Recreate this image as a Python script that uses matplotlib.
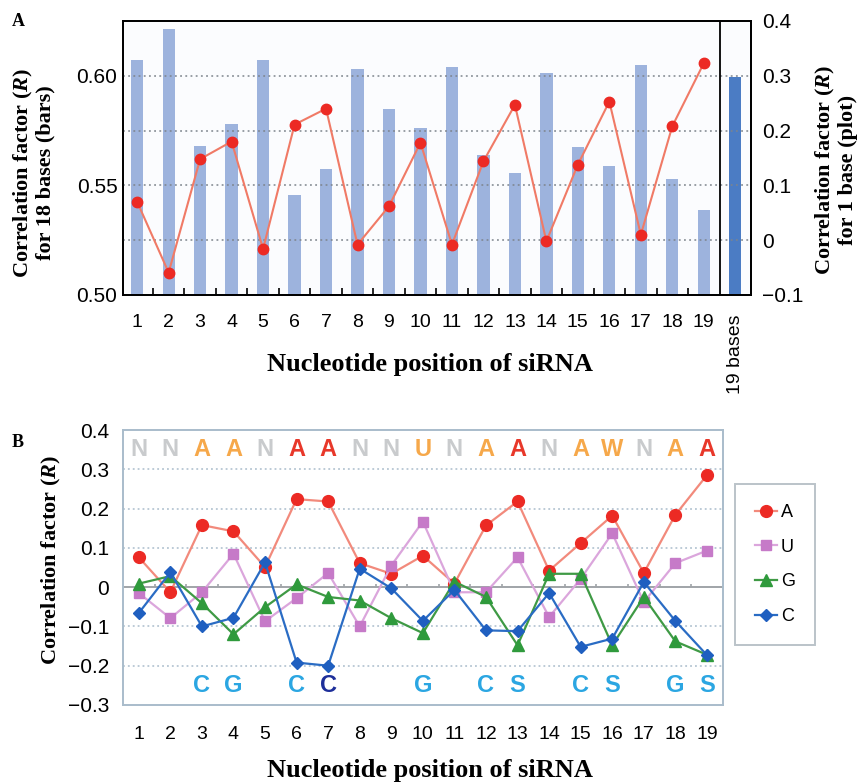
import numpy as np
import matplotlib
matplotlib.use("Agg")
import matplotlib.pyplot as plt

plt.rcParams['font.family'] = ['Liberation Sans', 'DejaVu Sans']
plt.rcParams['mathtext.fontset'] = 'custom'
plt.rcParams['mathtext.it'] = 'Liberation Serif:bold:italic'
plt.rcParams['mathtext.rm'] = 'Liberation Serif:bold'
plt.rcParams['axes.unicode_minus'] = True

# ---------------- data ----------------
positions = list(range(1, 20))
bars_18 = [0.607, 0.6215, 0.568, 0.578, 0.607, 0.5455, 0.5574, 0.6033, 0.5847, 0.5762,
           0.6042, 0.564, 0.5556, 0.6015, 0.5674, 0.5588, 0.6049, 0.5527, 0.5388]
bar_19bases = 0.5995
line_1base = [0.070, -0.059, 0.148, 0.180, -0.016, 0.211, 0.240, -0.008, 0.062, 0.178,
              -0.008, 0.144, 0.247, -0.002, 0.138, 0.253, 0.010, 0.208, 0.323]

A_vals = [0.076, -0.013, 0.158, 0.142, 0.051, 0.224, 0.218, 0.061, 0.034, 0.080,
          0.009, 0.157, 0.218, 0.042, 0.112, 0.182, 0.036, 0.184, 0.285]
U_vals = [-0.015, -0.079, -0.013, 0.085, -0.087, -0.028, 0.036, -0.100, 0.055, 0.167,
          -0.013, -0.013, 0.076, -0.076, 0.021, 0.137, -0.038, 0.061, 0.093]
G_vals = [0.009, 0.028, -0.041, -0.120, -0.051, 0.007, -0.025, -0.034, -0.079, -0.117,
          0.014, -0.025, -0.148, 0.034, 0.034, -0.148, -0.025, -0.138, -0.172]
C_vals = [-0.066, 0.038, -0.100, -0.078, 0.063, -0.192, -0.200, 0.047, -0.003, -0.086,
          -0.007, -0.110, -0.112, -0.015, -0.152, -0.131, 0.013, -0.086, -0.173]

top_letters = ['N', 'N', 'A', 'A', 'N', 'A', 'A', 'N', 'N', 'U', 'N', 'A', 'A', 'N', 'A', 'W', 'N', 'A', 'A']
top_strength = ['n', 'n', 'w', 'w', 'n', 's', 's', 'n', 'n', 'w', 'n', 'w', 's', 'n', 'w', 'w', 'n', 'w', 's']
bottom_pos = [3, 4, 6, 7, 10, 12, 13, 15, 16, 18, 19]
bottom_letters = ['C', 'G', 'C', 'C', 'G', 'C', 'S', 'C', 'S', 'G', 'S']
bottom_strength = ['w', 'w', 'w', 's', 'w', 'w', 'w', 'w', 'w', 'w', 'w']

serif_bold = dict(family='Liberation Serif', weight='bold')
W, H = 857, 784


def fx(px):
    return px / W


def fy(py):
    return 1 - py / H


fig = plt.figure(figsize=(8.57, 7.84), dpi=100)
fig.patch.set_facecolor('white')

# ---------------- Panel A ----------------
axA = fig.add_axes([fx(123), fy(295), fx(751) - fx(123), fy(21) - fy(295)])
axA.set_facecolor('#fbfcfe')
x = np.array(positions)
axA.bar(x, bars_18, width=0.39, color='#9db3dd', zorder=2)
axA.bar([20], [bar_19bases], width=0.38, color='#4b7cc4', zorder=2)
axA.set_xlim(0.55, 20.5)
axA.set_ylim(0.5, 0.625)
for gv in [0.525, 0.55, 0.575, 0.60]:
    axA.axhline(gv, color='#7d848c', ls=(0, (1.2, 2.2)), lw=1.1, zorder=3)
axA.axvline(19.5, color='black', lw=1.3, zorder=4)
axA.set_yticks([0.50, 0.55, 0.60])
axA.set_yticklabels(['0.50', '0.55', '0.60'])
axA.set_xticks(list(positions) + [20])
axA.set_xticklabels([str(p) for p in positions] + ['19 bases'])
last = axA.get_xticklabels()[-1]
last.set_rotation(90)
last.set_va('top')
axA.set_xticks(np.arange(1.5, 19.5, 1), minor=True)
axA.tick_params(axis='x', which='major', length=0, labelsize=14, pad=14)
axA.tick_params(axis='x', which='minor', length=5, direction='in', width=1.2)
axA.tick_params(axis='y', length=0, labelsize=15, pad=4)
for s in axA.spines.values():
    s.set_linewidth(1.3)
    s.set_color('black')

axA2 = axA.twinx()
axA2.set_ylim(-0.1, 0.4)
axA2.plot(x, line_1base, color='#f07a66', lw=1.5, marker='o', ms=7.5,
          mfc='#ec2a24', mec='#ec2a24', zorder=5)
axA2.set_yticks([-0.1, 0, 0.1, 0.2, 0.3, 0.4])
axA2.set_yticklabels(['\u22120.1', '0', '0.1', '0.2', '0.3', '0.4'])
axA2.tick_params(axis='y', length=0, labelsize=15, pad=8)
for s in axA2.spines.values():
    s.set_linewidth(1.3)

fig.text(fx(33.5), fy(173), 'Correlation factor ($R$)\nfor 18 bases (bars)', rotation=90,
         ha='center', va='center', multialignment='center', fontsize=16,
         linespacing=1.05, **serif_bold)
fig.text(fx(836), fy(170), 'Correlation factor ($R$)\nfor 1 base (plot)', rotation=90,
         ha='center', va='center', multialignment='center', fontsize=16,
         linespacing=1.05, **serif_bold)
fig.text(fx(430), fy(364), 'Nucleotide position of siRNA', ha='center', va='center',
         fontsize=19, **serif_bold)
fig.text(fx(12), fy(22), 'A', fontsize=13, va='center', ha='left', **serif_bold)

# ---------------- Panel B ----------------
axB = fig.add_axes([fx(123), fy(705), fx(722.7) - fx(123), fy(430) - fy(705)])
axB.set_xlim(0.5, 19.5)
axB.set_ylim(-0.3, 0.4)
for gv in [-0.2, -0.1, 0.1, 0.2, 0.3]:
    axB.axhline(gv, color='#a9bccb', ls=(0, (1.2, 2.0)), lw=1.1, zorder=1)
axB.axhline(0, color='#a0a4a8', lw=1.4, zorder=1)
axB.vlines(np.arange(1.5, 19.5, 1), 0, 0.008, color='#a0a4a8', lw=1.2, zorder=1)

series = [('A', A_vals, '#f28a7c', '#ec2a24', 'o', 8.5),
          ('U', U_vals, '#dba6dc', '#c67ac8', 's', 7),
          ('G', G_vals, '#3f9a45', '#2f9a3c', '^', 8.5),
          ('C', C_vals, '#2a6cc4', '#1f5fc0', 'D', 6.5)]
for name, vals, lc, mc, mk, ms in series:
    axB.plot(x, vals, color=lc, lw=1.6, marker=mk, ms=ms, mfc=mc, mec=mc,
             label=name, zorder=3)

top_colors = {'n': '#c9cbcd', 'w': '#f6a84a', 's': '#e8382a'}
for p, letter, st in zip(positions, top_letters, top_strength):
    axB.text(p, 0.35, letter, ha='center', va='center', fontsize=17,
             fontweight='bold', color=top_colors[st], zorder=4)
bottom_colors = {'w': '#2ba6e2', 's': '#1e2f9a'}
for p, letter, st in zip(bottom_pos, bottom_letters, bottom_strength):
    axB.text(p, -0.25, letter, ha='center', va='center', fontsize=17,
             fontweight='bold', color=bottom_colors[st], zorder=4)

axB.set_yticks([-0.3, -0.2, -0.1, 0, 0.1, 0.2, 0.3, 0.4])
axB.set_yticklabels(['\u22120.3', '\u22120.2', '\u22120.1', '0', '0.1', '0.2', '0.3', '0.4'])
axB.set_xticks(positions)
axB.set_xticklabels([str(p) for p in positions])
axB.tick_params(axis='y', length=0, labelsize=15, pad=10)
axB.tick_params(axis='x', length=0, labelsize=14, pad=15)
for s in axB.spines.values():
    s.set_color('#a9bccb')
    s.set_linewidth(1.4)

fig.text(fx(51), fy(560), 'Correlation factor ($R$)', rotation=90, ha='center', va='center',
         fontsize=16, **serif_bold)
fig.text(fx(430), fy(771), 'Nucleotide position of siRNA', ha='center', va='center',
         fontsize=19, **serif_bold)

leg = fig.legend(loc='upper left', bbox_to_anchor=(fx(735), fy(484)), borderaxespad=0,
                 fontsize=13, frameon=True, fancybox=False, edgecolor='#a9b4bc',
                 handlelength=1.25, labelspacing=0.98, borderpad=1.1, handletextpad=0.2)
leg.get_frame().set_linewidth(1.4)

fig.text(fx(12), fy(442), 'B', fontsize=13, va='center', ha='left', **serif_bold)

fig.savefig('out.png', dpi=100, facecolor='white')
